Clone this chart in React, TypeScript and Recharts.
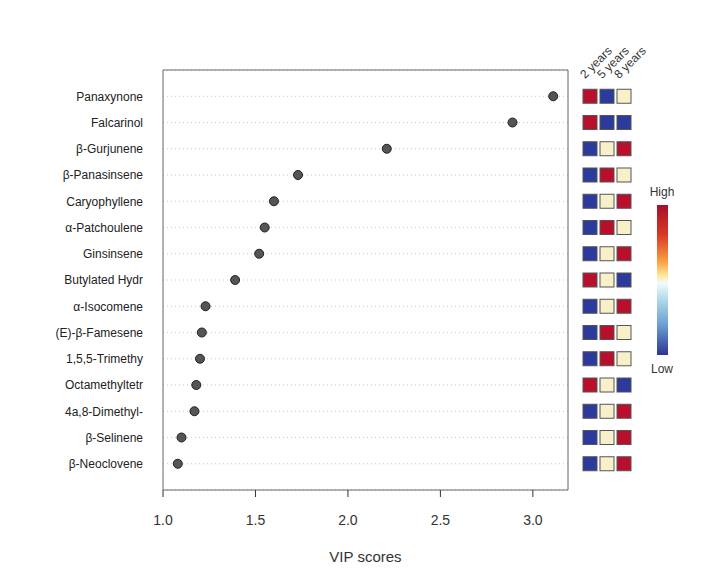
import React from 'react';
import { ScatterChart, Scatter, XAxis, YAxis, CartesianGrid, ReferenceArea } from 'recharts';

// compounds top to bottom, VIP scores
const compounds = [
  'Panaxynone', 'Falcarinol', 'β-Gurjunene', 'β-Panasinsene', 'Caryophyllene',
  'α-Patchoulene', 'Ginsinsene', 'Butylated Hydr', 'α-Isocomene', '(E)-β-Famesene',
  '1,5,5-Trimethy', 'Octamethyltetr', '4a,8-Dimethyl-', 'β-Selinene', 'β-Neoclovene',
];
const vipScores = [3.11, 2.89, 2.21, 1.73, 1.60, 1.55, 1.52, 1.39, 1.23, 1.21, 1.20, 1.18, 1.17, 1.10, 1.08];

// relative abundance per group: 1 = high, 0 = mid, -1 = low
const years2 = [1, 1, -1, -1, -1, -1, -1, 1, -1, -1, -1, 1, -1, -1, -1];
const years5 = [-1, -1, 0, 1, 0, 1, 0, 0, 0, 1, 1, 0, 0, 0, 0];
const years8 = [0, -1, 1, 0, 1, 0, 1, -1, 1, 0, 0, -1, 1, 1, 1];
const groupLabels = ['2 years', '5 years', '8 years'];

const xTicks = [1.0, 1.5, 2.0, 2.5, 3.0];

const n = compounds.length;
const rows = compounds.map((name, i) => ({
  name,
  vip: vipScores[i],
  pos: n - i,
  levels: [years2[i], years5[i], years8[i]],
}));
// heatmap column anchored on the right edge of the plot
const heatRows = rows.map(r => ({ ...r, vip: 3.19 }));

const levelColor = (v: number) => (v > 0 ? '#b8102c' : v < 0 ? '#2b3a9b' : '#f8f0c8');

const FONT = '"Liberation Sans", Arial, sans-serif';

const HeatCells = (props: any) => {
  const { cx, cy } = props;
  const entry = props.payload ?? props;
  const levels: number[] = entry.levels ?? props.levels ?? [];
  if (cx == null || cy == null) return null;
  const size = 14;
  const step = 17;
  const x0 = cx + 15;
  return (
    <g>
      {levels.map((lv: number, k: number) => (
        <rect key={k} x={x0 + k * step} y={cy - size / 2} width={size} height={size}
          fill={levelColor(lv)} stroke="#555" strokeWidth={1} />
      ))}
      {(entry.pos ?? props.pos) === n && groupLabels.map((g, k) => {
        const tx = x0 + k * step + 2;
        const ty = cy - 17;
        return (
          <text key={g} x={tx} y={ty} fontSize={12} fill="#333" fontFamily={FONT}
            transform={`rotate(-45 ${tx} ${ty})`}>{g}</text>
        );
      })}
    </g>
  );
};

const Dot = (props: any) => {
  const { cx, cy } = props;
  if (cx == null || cy == null) return null;
  return <circle cx={cx} cy={cy} r={4.5} fill="#555" stroke="#222" strokeWidth={1} />;
};

export default function App() {
  return (
    <div style={{ position: 'relative', width: 708, height: 564, background: '#fff' }}>
      <ScatterChart width={708} height={564} margin={{ top: 62, right: 148, bottom: 0, left: 0 }}>
        <CartesianGrid vertical={false} stroke="#c8c8c8" strokeDasharray="1 3" />
        <ReferenceArea x1={1.0} x2={3.19} y1={0} y2={n + 1} fill="none" stroke="#666" strokeWidth={1} ifOverflow="visible" />
        <XAxis type="number" dataKey="vip" domain={[1.0, 3.19]} ticks={xTicks}
          tickFormatter={(v: number) => v.toFixed(1)} axisLine={false} tickSize={7}
          tickLine={{ stroke: '#333' }} height={82}
          tick={{ fontSize: 14, fill: '#333', fontFamily: FONT, dy: 16 }}
          label={{ value: 'VIP scores', position: 'insideBottom', offset: 10, fontSize: 15, fill: '#333', fontFamily: FONT }} />
        <YAxis type="number" dataKey="pos" domain={[0, n + 1]} ticks={rows.map(r => r.pos)} width={155}
          tickFormatter={(v: number) => compounds[n - v] ?? ''} axisLine={false} tickLine={false}
          tickMargin={14} tick={{ fontSize: 12, fill: '#222', fontFamily: FONT }} interval={0} />
        <Scatter data={rows} dataKey="pos" shape={<Dot />} isAnimationActive={false} />
        <Scatter data={heatRows} dataKey="pos" shape={(p: any) => <HeatCells {...p} />} isAnimationActive={false} />
      </ScatterChart>
      <svg width={708} height={564} style={{ position: 'absolute', left: 0, top: 0, pointerEvents: 'none' }}>
        <defs>
          <linearGradient id="cbar" x1="0" y1="0" x2="0" y2="1">
            <stop offset="0" stopColor="#a50f2a" />
            <stop offset="0.2" stopColor="#d93a25" />
            <stop offset="0.38" stopColor="#fba243" />
            <stop offset="0.47" stopColor="#fde89a" />
            <stop offset="0.52" stopColor="#f4fbfb" />
            <stop offset="0.6" stopColor="#bfe3f0" />
            <stop offset="0.8" stopColor="#6a9fd0" />
            <stop offset="1" stopColor="#2c3594" />
          </linearGradient>
        </defs>
        <text x={654} y={188} textAnchor="middle" fontSize={12} fill="#333" fontFamily={FONT}>High</text>
        <rect x={649} y={197} width={11} height={150} fill="url(#cbar)" />
        <text x={654} y={365} textAnchor="middle" fontSize={12} fill="#333" fontFamily={FONT}>Low</text>
      </svg>
    </div>
  );
}
